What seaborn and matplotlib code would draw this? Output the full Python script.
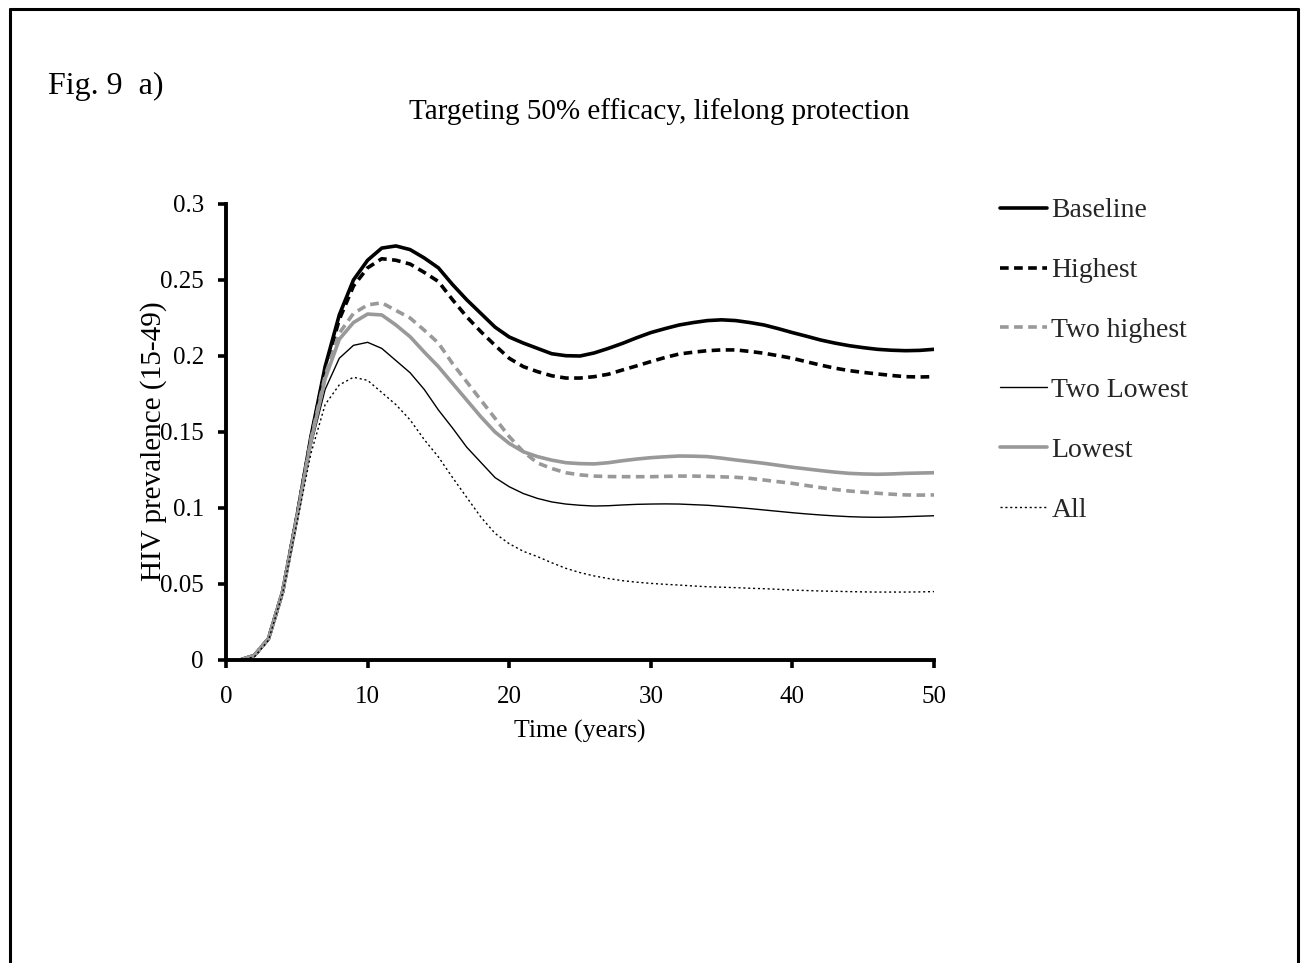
import numpy as np
import pandas as pd
import matplotlib
matplotlib.use("Agg")
import matplotlib.pyplot as plt
from matplotlib.lines import Line2D
import seaborn as sns

years = list(range(1, 51))

baseline = [0.0, 0.003, 0.014, 0.045, 0.094, 0.147, 0.193, 0.227, 0.250, 0.263,
            0.271, 0.2724, 0.270, 0.2645, 0.258, 0.247, 0.237, 0.228, 0.219, 0.2125,
            0.2085, 0.205, 0.2015, 0.2002, 0.200, 0.202, 0.205, 0.2083, 0.212, 0.2154,
            0.218, 0.2204, 0.222, 0.2233, 0.2238, 0.2233, 0.222, 0.2204, 0.218, 0.2154,
            0.213, 0.2105, 0.2085, 0.2068, 0.2055, 0.2044, 0.2038, 0.2035, 0.2037, 0.2044]

highest = [0.0, 0.003, 0.014, 0.045, 0.094, 0.146, 0.191, 0.224, 0.246, 0.258,
           0.264, 0.263, 0.2605, 0.255, 0.249, 0.237, 0.2258, 0.216, 0.207, 0.1985,
           0.193, 0.1897, 0.187, 0.1855, 0.1855, 0.1864, 0.188, 0.1908, 0.1935, 0.1963,
           0.199, 0.2013, 0.2025, 0.2035, 0.204, 0.204, 0.203, 0.2018, 0.2002, 0.1985,
           0.1962, 0.194, 0.192, 0.1904, 0.1892, 0.1882, 0.1872, 0.1864, 0.1862, 0.1864]

two_highest = [0.0, 0.003, 0.014, 0.045, 0.093, 0.145, 0.187, 0.215, 0.228, 0.2336,
               0.235, 0.230, 0.225, 0.217, 0.2085, 0.195, 0.183, 0.171, 0.159, 0.147,
               0.137, 0.1296, 0.126, 0.1232, 0.1218, 0.121, 0.1207, 0.1206, 0.1206, 0.1206,
               0.1208, 0.121, 0.121, 0.1208, 0.1205, 0.1202, 0.1195, 0.1184, 0.1173, 0.1162,
               0.1148, 0.1134, 0.1122, 0.1112, 0.1104, 0.1097, 0.1091, 0.1086, 0.1085, 0.1086]

two_lowest = [0.0, 0.003, 0.014, 0.045, 0.092, 0.141, 0.178, 0.1985, 0.207, 0.209,
              0.205, 0.197, 0.189, 0.178, 0.1645, 0.1526, 0.140, 0.130, 0.120, 0.114,
              0.1095, 0.1063, 0.104, 0.1026, 0.1018, 0.1013, 0.1015, 0.102, 0.1024, 0.1026,
              0.1027, 0.1026, 0.1022, 0.1018, 0.1011, 0.1004, 0.0996, 0.0987, 0.0978, 0.0969,
              0.0961, 0.0954, 0.0948, 0.0943, 0.094, 0.0939, 0.094, 0.0943, 0.0946, 0.0949]

lowest = [0.0, 0.003, 0.014, 0.045, 0.093, 0.144, 0.185, 0.211, 0.222, 0.2276,
          0.227, 0.2204, 0.2127, 0.2026, 0.193, 0.182, 0.171, 0.160, 0.150, 0.1425,
          0.137, 0.1338, 0.1315, 0.1298, 0.1292, 0.129, 0.1298, 0.1311, 0.1322, 0.1331,
          0.1337, 0.1342, 0.1341, 0.1338, 0.1328, 0.1316, 0.1305, 0.1294, 0.1281, 0.1268,
          0.1257, 0.1246, 0.1236, 0.1228, 0.1224, 0.1222, 0.1224, 0.1228, 0.123, 0.1232]

all_groups = [0.0, 0.002, 0.013, 0.044, 0.090, 0.136, 0.168, 0.181, 0.186, 0.184,
              0.176, 0.168, 0.158, 0.145, 0.1336, 0.120, 0.107, 0.094, 0.0833, 0.0765,
              0.0715, 0.068, 0.064, 0.0603, 0.0575, 0.0553, 0.0536, 0.0522, 0.0512, 0.0504,
              0.0498, 0.0493, 0.0487, 0.0482, 0.0479, 0.0476, 0.0472, 0.0469, 0.0465, 0.046,
              0.0457, 0.0454, 0.0452, 0.045, 0.0448, 0.0447, 0.0447, 0.0447, 0.0448, 0.045]

series_names = ["Baseline", "Highest", "Two highest", "Two Lowest", "Lowest", "All"]
series_values = [baseline, highest, two_highest, two_lowest, lowest, all_groups]

x_ticks = [0, 10, 20, 30, 40, 50]
y_ticks = [0, 0.05, 0.1, 0.15, 0.2, 0.25, 0.3]
y_tick_labels = ["0", "0.05", "0.1", "0.15", "0.2", "0.25", "0.3"]

sns.set_theme(style="white")
plt.rcParams["font.family"] = ["Liberation Serif", "DejaVu Serif"]

GRAY = "#999999"
styles = {
    "Baseline":    dict(color="black", lw=2.6, ls="-"),
    "Highest":     dict(color="black", lw=2.6, ls=(0, (2.4, 1.5))),
    "Two highest": dict(color=GRAY, lw=2.6, ls=(0, (2.4, 1.5))),
    "Two Lowest":  dict(color="black", lw=1.0, ls="-"),
    "Lowest":      dict(color=GRAY, lw=2.6, ls="-"),
    "All":         dict(color="black", lw=1.0, ls=(0, (1.5, 2.0))),
}

W, H = 1301, 963
fig = plt.figure(figsize=(W / 100, H / 100), dpi=100)
ax = fig.add_axes([226 / W, 1 - 660 / H, (934 - 226) / W, (660 - 204) / H])

for name, vals in zip(series_names, series_values):
    df = pd.DataFrame({"Time": years, "Prev": vals})
    st = styles[name]
    sns.lineplot(data=df, x="Time", y="Prev", ax=ax, color=st["color"],
                 linewidth=st["lw"], linestyle=st["ls"], label=name)

ax.set_xlim(0, 50)
ax.set_ylim(0, 0.3)
ax.set_xticks(x_ticks)
ax.set_xticklabels([str(t) for t in x_ticks])
ax.set_yticks(y_ticks)
ax.set_yticklabels(y_tick_labels)
ax.tick_params(axis="both", which="major", direction="out", length=6, width=2.6,
               color="black", labelsize=18, labelcolor="black")
ax.tick_params(axis="x", bottom=True, pad=13)
ax.tick_params(axis="y", left=True, pad=10)
for side in ["top", "right"]:
    ax.spines[side].set_visible(False)
for side in ["left", "bottom"]:
    ax.spines[side].set_color("black")
    ax.spines[side].set_linewidth(2.8)
ax.set_facecolor("white")
ax.grid(False)

ax.set_xlabel("Time (years)", fontsize=18.5, color="black")
ax.xaxis.label.set_va("center")
ax.xaxis.set_label_coords((580 - 226) / (934 - 226), (660 - 731) / (660 - 204))
ax.set_ylabel("")
fig.text(154 / W, 1 - 441 / H, "HIV prevalence (15-49)", rotation=90,
         ha="center", va="center", fontsize=21, color="black")

ax.get_legend().remove()
handles, labels = ax.get_legend_handles_labels()
fig.legend(handles, labels, loc="upper left",
           bbox_to_anchor=(1000 / W, 1 - 198 / H), frameon=False,
           fontsize=20, handlelength=1.7, handletextpad=0.15, labelspacing=1.24,
           borderpad=0, borderaxespad=0)

fig.text(659 / W, 1 - 112 / H, "Targeting 50% efficacy, lifelong protection",
         ha="center", va="center", fontsize=21, color="black")
fig.text(48 / W, 1 - 86 / H, "Fig. 9  a)", ha="left", va="center",
         fontsize=23, color="black")

# page frame
bx_l, bx_r, bx_t = 9.5 / W, 1297.5 / W, 1 - 9.5 / H
for xs, ys in [([bx_l, bx_l], [0, bx_t]), ([bx_r, bx_r], [0, bx_t]), ([bx_l, bx_r], [bx_t, bx_t])]:
    fig.add_artist(Line2D(xs, ys, transform=fig.transFigure, color="black", lw=2.2))

fig.savefig("out.png", dpi=100, facecolor="white")
